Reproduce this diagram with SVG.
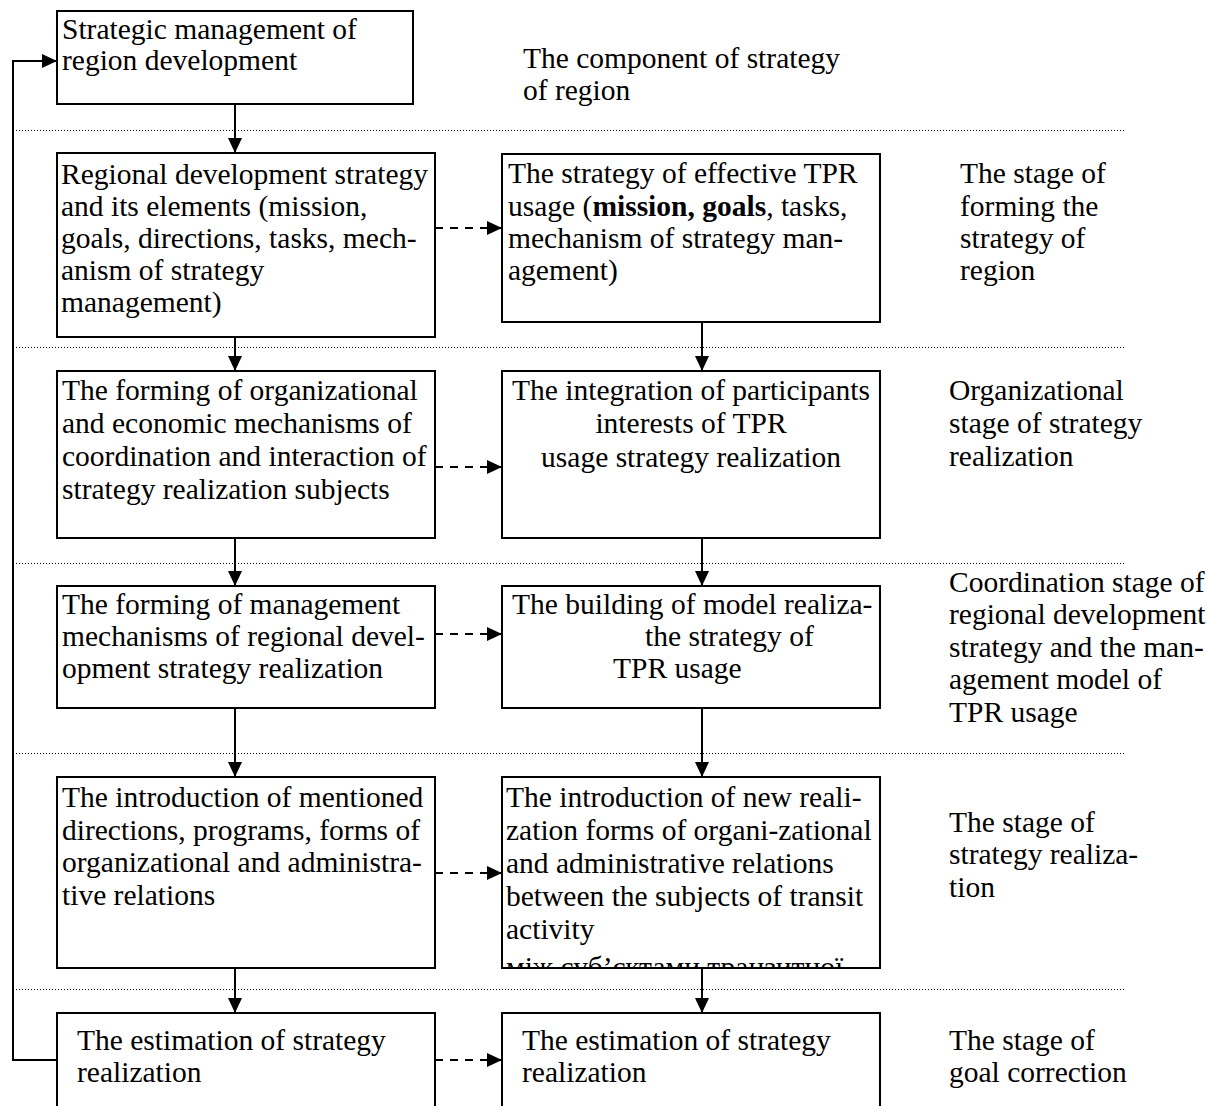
<svg xmlns="http://www.w3.org/2000/svg" width="1207" height="1106" viewBox="0 0 1207 1106">
  <style>
    .box { fill: #fff; stroke: #000; stroke-width: 2; }
    .t { font-family: "Liberation Serif", "Times New Roman", serif; font-size: 29.5px; fill: #000; }
    .c { text-anchor: middle; }
    .sep { stroke: #000; stroke-width: 1; stroke-dasharray: 1 2; fill: none; }
    .flow { stroke: #000; stroke-width: 2; fill: none; marker-end: url(#ah); }
    .dash { stroke: #000; stroke-width: 2; fill: none; stroke-dasharray: 8 7; marker-end: url(#ah); }
    .line { stroke: #000; stroke-width: 2; fill: none; }
  </style>
  <defs>
    <marker id="ah" markerUnits="userSpaceOnUse" markerWidth="15" markerHeight="14" refX="15" refY="7" orient="auto">
      <path d="M0,0 L15,7 L0,14 Z" fill="#000"/>
    </marker>
    <clipPath id="clip5r">
      <rect x="502" y="777" width="378" height="192"/>
    </clipPath>
  </defs>
  <rect width="1207" height="1106" fill="#fff"/>

  <!-- stage separators -->
  <g id="separators">
    <line class="sep" x1="13" y1="130.5" x2="1125" y2="130.5"/>
    <line class="sep" x1="13" y1="347.5" x2="1125" y2="347.5"/>
    <line class="sep" x1="13" y1="563.5" x2="1125" y2="563.5"/>
    <line class="sep" x1="13" y1="753.5" x2="1125" y2="753.5"/>
    <line class="sep" x1="13" y1="989.5" x2="1125" y2="989.5"/>
  </g>

  <!-- stage labels -->
  <g id="labels">
    <text class="t"><tspan x="523" y="68">The component of strategy</tspan><tspan x="523" y="100">of region</tspan></text>
    <text class="t"><tspan x="960" y="183">The stage of</tspan><tspan x="960" y="216">forming the</tspan><tspan x="960" y="248">strategy of</tspan><tspan x="960" y="280">region</tspan></text>
    <text class="t"><tspan x="949" y="400">Organizational</tspan><tspan x="949" y="433">stage of strategy</tspan><tspan x="949" y="466">realization</tspan></text>
    <text class="t"><tspan x="949" y="592">Coordination stage of</tspan><tspan x="949" y="624">regional development</tspan><tspan x="949" y="657">strategy and the man-</tspan><tspan x="949" y="689">agement model of</tspan><tspan x="949" y="722">TPR usage</tspan></text>
    <text class="t"><tspan x="949" y="832">The stage of</tspan><tspan x="949" y="864">strategy realiza-</tspan><tspan x="949" y="897">tion</tspan></text>
    <text class="t"><tspan x="949" y="1050">The stage of</tspan><tspan x="949" y="1082">goal correction</tspan></text>
  </g>

  <!-- left column -->
  <g id="n1">
    <rect class="box" x="57" y="11" width="356" height="93"/>
    <text class="t"><tspan x="62" y="39">Strategic management of</tspan><tspan x="62" y="70">region development</tspan></text>
  </g>
  <g id="n2">
    <rect class="box" x="57" y="153" width="378" height="184"/>
    <text class="t"><tspan x="61" y="184">Regional development strategy</tspan><tspan x="61" y="216">and its elements (mission,</tspan><tspan x="61" y="248">goals, directions, tasks, mech-</tspan><tspan x="61" y="280">anism of strategy</tspan><tspan x="61" y="312">management)</tspan></text>
  </g>
  <g id="n3">
    <rect class="box" x="57" y="371" width="378" height="167"/>
    <text class="t"><tspan x="62" y="400">The forming of organizational</tspan><tspan x="62" y="433">and economic mechanisms of</tspan><tspan x="62" y="466">coordination and interaction of</tspan><tspan x="62" y="499">strategy realization subjects</tspan></text>
  </g>
  <g id="n4">
    <rect class="box" x="57" y="586" width="378" height="122"/>
    <text class="t"><tspan x="62" y="614">The forming of management</tspan><tspan x="62" y="646">mechanisms of regional devel-</tspan><tspan x="62" y="678">opment strategy realization</tspan></text>
  </g>
  <g id="n5">
    <rect class="box" x="57" y="777" width="378" height="191"/>
    <text class="t"><tspan x="62" y="807">The introduction of mentioned</tspan><tspan x="62" y="840">directions, programs, forms of</tspan><tspan x="62" y="872">organizational and administra-</tspan><tspan x="62" y="905">tive relations</tspan></text>
  </g>
  <g id="n6">
    <path class="line" d="M57,1106 V1013 H435 V1106"/>
    <text class="t"><tspan x="77" y="1050">The estimation of strategy</tspan><tspan x="77" y="1082">realization</tspan></text>
  </g>

  <!-- right column -->
  <g id="m2">
    <rect class="box" x="502" y="154" width="378" height="168"/>
    <text class="t"><tspan x="508" y="183">The strategy of effective TPR</tspan><tspan x="508" y="216">usage (<tspan font-weight="bold">mission, goals</tspan>, tasks,</tspan><tspan x="508" y="248">mechanism of strategy man-</tspan><tspan x="508" y="280">agement)</tspan></text>
  </g>
  <g id="m3">
    <rect class="box" x="502" y="371" width="378" height="167"/>
    <text class="t c"><tspan x="691" y="400">The integration of participants</tspan><tspan x="691" y="433">interests of TPR</tspan><tspan x="691" y="467">usage strategy realization</tspan></text>
  </g>
  <g id="m4">
    <rect class="box" x="502" y="586" width="378" height="122"/>
    <text class="t"><tspan x="512" y="614">The building of model realiza-</tspan><tspan x="645" y="646">the strategy of</tspan><tspan x="613" y="678">TPR usage</tspan></text>
  </g>
  <g id="m5">
    <rect class="box" x="502" y="777" width="378" height="191"/>
    <text class="t" clip-path="url(#clip5r)"><tspan x="506" y="807">The introduction of new reali-</tspan><tspan x="506" y="840">zation forms of organi-zational</tspan><tspan x="506" y="873">and administrative relations</tspan><tspan x="506" y="906">between the subjects of transit</tspan><tspan x="506" y="939">activity</tspan><tspan x="506" y="977">між суб’єктами транзитної</tspan></text>
    <rect x="502" y="777" width="378" height="191" fill="none" stroke="#000" stroke-width="2"/>
  </g>
  <g id="m6">
    <path class="line" d="M502,1106 V1013 H880 V1106"/>
    <text class="t"><tspan x="522" y="1050">The estimation of strategy</tspan><tspan x="522" y="1082">realization</tspan></text>
  </g>

  <!-- connectors -->
  <g id="connectors">
    <line class="flow" x1="235" y1="104" x2="235" y2="153"/>
    <line class="flow" x1="235" y1="337" x2="235" y2="371"/>
    <line class="flow" x1="235" y1="538" x2="235" y2="586"/>
    <line class="flow" x1="235" y1="708" x2="235" y2="777"/>
    <line class="flow" x1="235" y1="968" x2="235" y2="1013"/>

    <line class="flow" x1="702" y1="322" x2="702" y2="371"/>
    <line class="flow" x1="702" y1="538" x2="702" y2="586"/>
    <line class="flow" x1="702" y1="708" x2="702" y2="777"/>
    <line class="flow" x1="702" y1="968" x2="702" y2="1013"/>

    <line class="dash" x1="435" y1="228" x2="502" y2="228"/>
    <line class="dash" x1="435" y1="467" x2="502" y2="467"/>
    <line class="dash" x1="435" y1="634" x2="502" y2="634"/>
    <line class="dash" x1="435" y1="873" x2="502" y2="873"/>
    <line class="dash" x1="435" y1="1060" x2="502" y2="1060"/>

    <!-- feedback loop back to the top -->
    <path class="flow" d="M57,1060 H13 V61 H57"/>
  </g>
</svg>
